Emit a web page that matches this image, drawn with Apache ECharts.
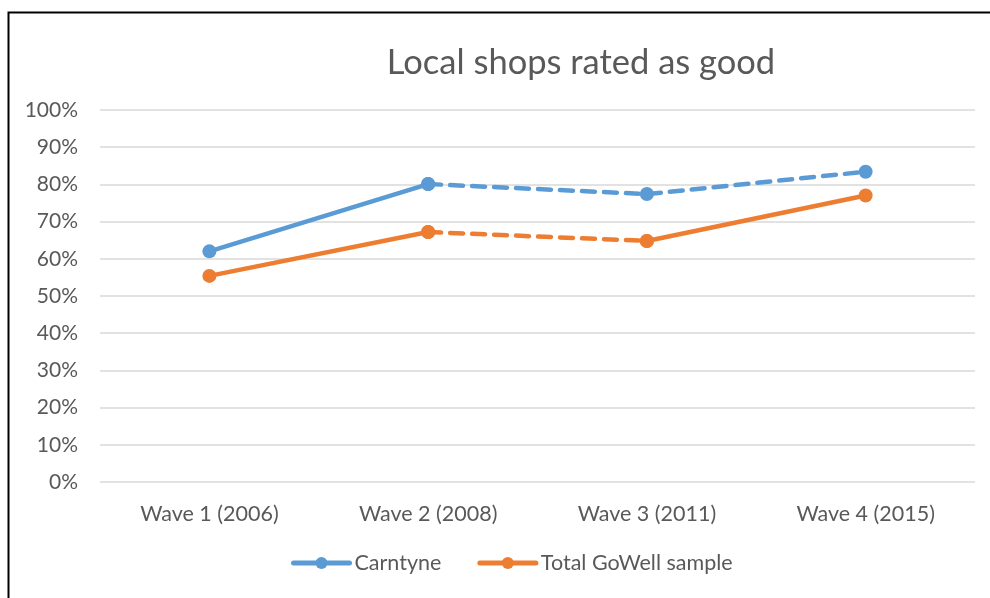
<!DOCTYPE html>
<html>
<head>
<meta charset="utf-8">
<script src="https://cdn.jsdelivr.net/npm/echarts@6/dist/echarts.min.js"></script>
<style>
  html, body { margin: 0; padding: 0; background: #fff; }
  #main { width: 990px; height: 598px; }
</style>
</head>
<body>
<div id="main"></div>
<script>
const categories = ["Wave 1 (2006)", "Wave 2 (2008)", "Wave 3 (2011)", "Wave 4 (2015)"];
const carntyne = [62, 80.1, 77.4, 83.4];
const gowell = [55.4, 67.2, 64.8, 77.0];
const yTicks = [0, 10, 20, 30, 40, 50, 60, 70, 80, 90, 100];

const blue = "#5B9BD5";
const orange = "#ED7D31";
const textColor = "#595959";
const font = "Lato";

// pick values only for the given indexes, rest are gaps
function part(values, idx) {
  return values.map((v, i) => (idx.includes(i) ? v : "-"));
}

function seg(name, color, data, dashed) {
  return {
    name: name,
    type: "line",
    data: data,
    symbol: "circle",
    symbolSize: 14,
    connectNulls: false,
    itemStyle: { color: color },
    lineStyle: {
      color: color,
      width: 4.5,
      type: dashed ? [13, 9] : "solid",
      cap: "round"
    },
    emphasis: { disabled: true },
    animation: false
  };
}

const chartDom = document.getElementById("main");
const myChart = echarts.init(chartDom);

const option = {
  textStyle: { fontFamily: font },
  title: {
    text: "Local shops rated as good",
    left: 576,
    top: 40,
    textAlign: "center",
    textStyle: { fontFamily: font, fontSize: 34.5, fontWeight: "normal", color: textColor }
  },
  graphic: [{
    type: "rect",
    shape: { x: 8.5, y: 12.5, width: 1000, height: 700 },
    style: { fill: "none", stroke: "#000", lineWidth: 2 },
    silent: true
  }],
  legend: {
    data: ["Carntyne", "Total GoWell sample"],
    bottom: 19,
    left: 286,
    itemWidth: 56,
    itemHeight: 15,
    itemGap: 36,
    lineStyle: { width: 5 },
    textStyle: { fontFamily: font, fontSize: 21.5, color: textColor }
  },
  grid: { left: 100, right: 15, top: 110, bottom: 116 },
  xAxis: {
    type: "category",
    data: categories,
    boundaryGap: true,
    axisLine: { show: false },
    axisTick: { show: false },
    axisLabel: { fontFamily: font, fontSize: 21.5, color: textColor, margin: 21 }
  },
  yAxis: {
    type: "value",
    min: yTicks[0],
    max: yTicks[yTicks.length - 1],
    interval: 10,
    axisLine: { show: false },
    axisTick: { show: false },
    splitLine: { lineStyle: { color: "#D9D9D9", width: 1.5 } },
    axisLabel: { fontFamily: font, fontSize: 21, color: textColor, margin: 22, formatter: "{value}%" }
  },
  series: [
    seg("Carntyne", blue, part(carntyne, [0, 1]), false),
    seg("Carntyne", blue, part(carntyne, [1, 2, 3]), true),
    seg("Total GoWell sample", orange, part(gowell, [0, 1]), false),
    seg("Total GoWell sample", orange, part(gowell, [1, 2]), true),
    seg("Total GoWell sample", orange, part(gowell, [2, 3]), false)
  ]
};

option && myChart.setOption(option);
</script>
</body>
</html>
